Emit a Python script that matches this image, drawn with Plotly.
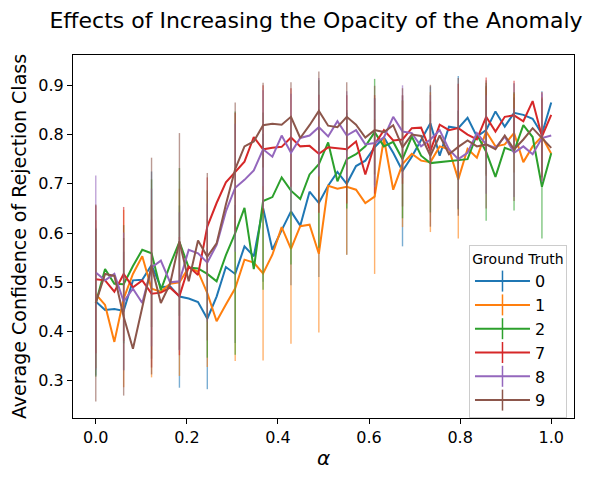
import numpy as np
import plotly.graph_objects as go

# alpha grid (50 steps from 0 to 1), error bars drawn on every 3rd point
alpha = np.linspace(0.0, 1.0, 50)
error_every = 3

series_names = ["0", "1", "2", "7", "8", "9"]
series_colors = ["#1f77b4", "#ff7f0e", "#2ca02c", "#d62728", "#9467bd", "#8c564b"]

conf_0 = [0.461, 0.444, 0.446, 0.442, 0.504, 0.505, 0.535, 0.490, 0.492, 0.471,
          0.467, 0.460, 0.426, 0.471, 0.531, 0.517, 0.573, 0.553, 0.651, 0.566,
          0.606, 0.644, 0.615, 0.684, 0.661, 0.696, 0.724, 0.700, 0.736, 0.747,
          0.774, 0.794, 0.763, 0.726, 0.755, 0.788, 0.823, 0.757, 0.816, 0.813,
          0.834, 0.796, 0.809, 0.847, 0.816, 0.844, 0.840, 0.832, 0.801, 0.865]
conf_1 = [0.476, 0.454, 0.379, 0.467, 0.517, 0.553, 0.487, 0.481, 0.497, 0.500,
          0.530, 0.522, 0.478, 0.421, 0.455, 0.488, 0.546, 0.540, 0.518, 0.556,
          0.612, 0.568, 0.614, 0.617, 0.558, 0.696, 0.690, 0.694, 0.688, 0.661,
          0.674, 0.792, 0.688, 0.740, 0.761, 0.747, 0.744, 0.776, 0.770, 0.709,
          0.771, 0.753, 0.806, 0.776, 0.780, 0.803, 0.744, 0.776, 0.796, 0.761]
conf_2 = [0.458, 0.527, 0.497, 0.496, 0.533, 0.566, 0.559, 0.484, 0.536, 0.582,
          0.530, 0.528, 0.517, 0.502, 0.555, 0.600, 0.651, 0.527, 0.665, 0.673,
          0.713, 0.686, 0.669, 0.719, 0.740, 0.784, 0.705, 0.750, 0.760, 0.776,
          0.805, 0.776, 0.785, 0.750, 0.796, 0.757, 0.742, 0.744, 0.745, 0.748,
          0.750, 0.800, 0.765, 0.714, 0.773, 0.766, 0.819, 0.795, 0.694, 0.762]
conf_7 = [0.506, 0.504, 0.481, 0.517, 0.490, 0.504, 0.477, 0.479, 0.489, 0.472,
          0.532, 0.515, 0.613, 0.661, 0.703, 0.724, 0.745, 0.795, 0.770, 0.773,
          0.775, 0.794, 0.776, 0.777, 0.761, 0.774, 0.772, 0.770, 0.786, 0.719,
          0.780, 0.809, 0.788, 0.790, 0.813, 0.814, 0.767, 0.820, 0.809, 0.813,
          0.800, 0.790, 0.836, 0.806, 0.836, 0.839, 0.827, 0.868, 0.796, 0.840]
conf_8 = [0.520, 0.504, 0.517, 0.461, 0.487, 0.458, 0.530, 0.544, 0.500, 0.502,
          0.566, 0.559, 0.540, 0.576, 0.644, 0.692, 0.708, 0.727, 0.770, 0.755,
          0.798, 0.763, 0.793, 0.798, 0.815, 0.796, 0.827, 0.798, 0.809, 0.780,
          0.783, 0.794, 0.836, 0.806, 0.803, 0.776, 0.790, 0.809, 0.770, 0.750,
          0.763, 0.803, 0.780, 0.773, 0.796, 0.763, 0.776, 0.760, 0.793, 0.798]
conf_9 = [0.458, 0.517, 0.513, 0.430, 0.365, 0.448, 0.533, 0.458, 0.497, 0.583,
          0.502, 0.585, 0.552, 0.579, 0.658, 0.730, 0.776, 0.786, 0.819, 0.822,
          0.820, 0.836, 0.793, 0.819, 0.848, 0.818, 0.815, 0.836, 0.820, 0.794,
          0.809, 0.805, 0.819, 0.774, 0.800, 0.797, 0.757, 0.798, 0.760, 0.775,
          0.788, 0.776, 0.780, 0.770, 0.798, 0.770, 0.790, 0.813, 0.793, 0.773]

# error (std) at alpha indices 0, 3, 6, ..., 48
err_0 = [0.150, 0.120, 0.190, 0.185, 0.143, 0.140, 0.150, 0.150, 0.150, 0.144,
         0.100, 0.153, 0.075, 0.106, 0.090, 0.060, 0.087]
err_1 = [0.150, 0.180, 0.180, 0.190, 0.150, 0.148, 0.177, 0.193, 0.160, 0.138,
         0.157, 0.128, 0.142, 0.120, 0.090, 0.080, 0.080]
err_2 = [0.150, 0.120, 0.150, 0.150, 0.170, 0.247, 0.180, 0.150, 0.170, 0.100,
         0.108, 0.120, 0.100, 0.100, 0.140, 0.120, 0.105]
err_7 = [0.150, 0.136, 0.150, 0.120, 0.100, 0.120, 0.130, 0.100, 0.120, 0.110,
         0.100, 0.090, 0.100, 0.090, 0.080, 0.070, 0.090]
err_8 = [0.197, 0.140, 0.160, 0.140, 0.120, 0.130, 0.120, 0.120, 0.100, 0.090,
         0.090, 0.094, 0.090, 0.100, 0.100, 0.090, 0.090]
err_9 = [0.200, 0.160, 0.220, 0.220, 0.170, 0.135, 0.086, 0.070, 0.080, 0.070,
         0.090, 0.120, 0.144, 0.140, 0.130, 0.105, 0.080]

conf_all = [conf_0, conf_1, conf_2, conf_7, conf_8, conf_9]
err_all = [err_0, err_1, err_2, err_7, err_8, err_9]


def rgba(hex_color, a):
    h = hex_color.lstrip("#")
    r, g, b = int(h[0:2], 16), int(h[2:4], 16), int(h[4:6], 16)
    return f"rgba({r},{g},{b},{a})"


fig = go.Figure()
lo_vals, hi_vals = [], []
for name, color, conf, err in zip(series_names, series_colors, conf_all, err_all):
    full_err = [0.0] * len(conf)
    for k, e in enumerate(err):
        full_err[k * error_every] = e
    c = np.array(conf)
    e = np.array(full_err)
    lo_vals.append((c - e).min())
    hi_vals.append((c + e).max())
    fig.add_trace(go.Scatter(
        x=alpha, y=conf, mode="lines", name=name, showlegend=False,
        legendgroup=name,
        line=dict(color=color, width=2),
        error_y=dict(type="data", array=full_err, visible=True,
                     color=rgba(color, 0.6), thickness=1.4, width=0),
    ))
    # legend entry (line with vertical errorbar tick)
    fig.add_trace(go.Scatter(
        x=[None], y=[None], mode="lines+markers", name=name, legendgroup=name,
        line=dict(color=color, width=2),
        marker=dict(symbol="line-ns", size=15, color=color,
                    line=dict(color=color, width=1.5)),
    ))

ymin, ymax = min(lo_vals), max(hi_vals)
pad = 0.05 * (ymax - ymin)

fig.update_layout(
    width=597, height=477,
    margin=dict(l=73, r=23, t=55, b=50),
    paper_bgcolor="white", plot_bgcolor="white",
    font=dict(family="DejaVu Sans", size=16, color="black"),
    title=dict(text="Effects of Increasing the Opacity of the Anomaly",
               x=316 / 597, xref="container", xanchor="center",
               y=1 - 20 / 477, yref="container", yanchor="middle",
               font=dict(size=22, family="DejaVu Sans", color="black")),
    xaxis=dict(range=[-0.05, 1.05], tickvals=[0, 0.2, 0.4, 0.6, 0.8, 1.0],
               tickformat=".1f", showgrid=False, zeroline=False,
               showline=True, linecolor="black", linewidth=1, mirror=True,
               ticks="outside", ticklen=5, tickwidth=1, tickcolor="black",
               tickfont=dict(size=16),
               title=dict(text="<i>α</i>", font=dict(size=20), standoff=4)),
    yaxis=dict(range=[ymin - pad, ymax + pad],
               tickvals=[0.3, 0.4, 0.5, 0.6, 0.7, 0.8, 0.9],
               tickformat=".1f", showgrid=False, zeroline=False,
               showline=True, linecolor="black", linewidth=1, mirror=True,
               ticks="outside", ticklen=5, tickwidth=1, tickcolor="black",
               tickfont=dict(size=16),
               title=dict(text="Average Confidence of Rejection Class",
                          font=dict(size=19), standoff=6)),
    legend=dict(
        title=dict(text="Ground Truth", side="top center",
                   font=dict(size=14)),
        x=0.986, y=0.0, xanchor="right", yanchor="bottom",
        bgcolor="rgba(255,255,255,0.85)", bordercolor="#cccccc", borderwidth=1,
        font=dict(size=16), tracegroupgap=0, itemwidth=55,
    ),
)

fig.write_html("out.html")
